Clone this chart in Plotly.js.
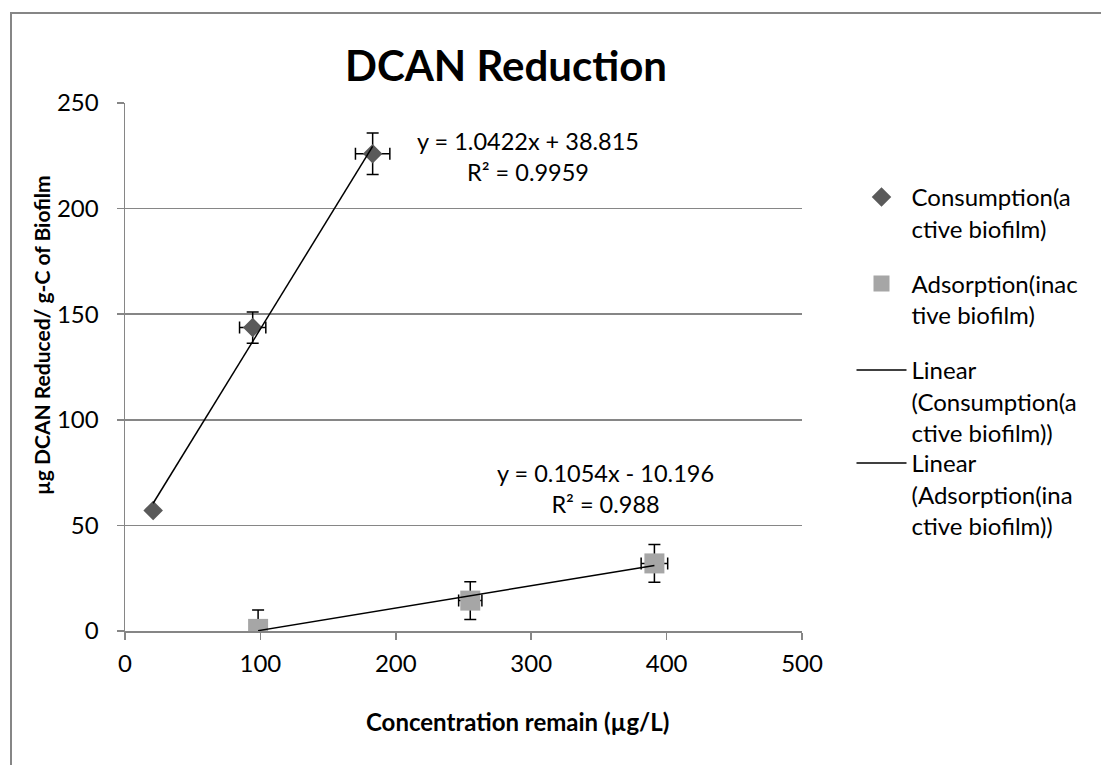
<!DOCTYPE html>
<html>
<head>
<meta charset="utf-8">
<script src="https://cdn.plot.ly/plotly-3.0.1.min.js"></script>
<style>
  html, body { margin: 0; padding: 0; background: #ffffff; }
  #chart { width: 1101px; height: 765px; }
</style>
</head>
<body>
<div id="chart"></div>
<script>
// ---- data ----
var consX    = [20.8, 94.3, 182.9];
var consY    = [57.1, 143.7, 226.0];
var consXerr = [0, 9.7, 12.7];
var consYerr = [0, 7.4, 9.8];

var adsX    = [98.3, 255.0, 391.0];
var adsY    = [1.0, 14.4, 32.0];
var adsXerr = [0, 8.6, 9.8];
var adsYerr = [9.0, 8.9, 8.9];

var fitSlopes     = [1.0422, 0.1054];
var fitIntercepts = [38.815, -10.196];
var fitLabels     = ["y = 1.0422x + 38.815<br>R² = 0.9959", "y = 0.1054x - 10.196<br>R² = 0.988"];

var seriesNames = ["Consumption(a<br>ctive biofilm)", "Adsorption(inac<br>tive biofilm)"];
var trendNames  = ["Linear<br>(Consumption(a<br>ctive biofilm))", "Linear<br>(Adsorption(ina<br>ctive biofilm))"];

var yTickVals = [0, 50, 100, 150, 200, 250];
var xTickVals = [0, 100, 200, 300, 400, 500];

// ---- helpers ----
function fitLine(xs, k) {
  var lo = Math.min.apply(null, xs), hi = Math.max.apply(null, xs);
  return { x: [lo, hi], y: [fitSlopes[k] * lo + fitIntercepts[k], fitSlopes[k] * hi + fitIntercepts[k]] };
}
var fit0 = fitLine(consX, 0);
var fit1 = fitLine(adsX, 1);

var FONT = "Lato, 'Open Sans', sans-serif";
var errStyle = { color: "#000000", thickness: 1.5, width: 6 };

var traces = [
  {
    type: "scatter", mode: "markers", name: seriesNames[0],
    x: consX, y: consY,
    marker: { symbol: "diamond", size: 15, color: "#5a5a5a" },
    error_y: Object.assign({ type: "data", array: consYerr, visible: true }, errStyle),
    error_x: Object.assign({ type: "data", array: consXerr, visible: true }, errStyle),
    legend: "legend"
  },
  {
    type: "scatter", mode: "markers", name: seriesNames[1],
    x: adsX, y: adsY,
    marker: { symbol: "square", size: 20, color: "#a6a6a6" },
    error_y: Object.assign({ type: "data", array: adsYerr, visible: true }, errStyle),
    error_x: Object.assign({ type: "data", array: adsXerr, visible: true }, errStyle),
    legend: "legend2"
  },
  {
    type: "scatter", mode: "lines", name: trendNames[0],
    x: fit0.x, y: fit0.y,
    line: { color: "#000000", width: 1.5 },
    legend: "legend3"
  },
  {
    type: "scatter", mode: "lines", name: trendNames[1],
    x: fit1.x, y: fit1.y,
    line: { color: "#000000", width: 1.5 },
    legend: "legend4"
  }
];

var ml = 125, mr = 299, mt = 103, mb = 134;
var W = 1101, H = 765;
var pw = W - ml - mr, ph = H - mt - mb;
function px2paperX(p) { return (p - ml) / pw; }
function px2paperY(p) { return (H - mb - p) / ph; }

function legendAt(topPx) {
  return {
    x: px2paperX(851.5), xanchor: "left",
    y: px2paperY(topPx), yanchor: "top",
    font: { family: FONT, size: 24, color: "#000000" },
    itemwidth: 50,
    valign: "top",
    bgcolor: "rgba(0,0,0,0)",
    borderwidth: 0
  };
}

var layout = {
  width: W, height: H,
  margin: { l: ml, r: mr, t: mt, b: mb, pad: 0 },
  paper_bgcolor: "#ffffff",
  plot_bgcolor: "#ffffff",
  font: { family: FONT, size: 24, color: "#000000" },
  title: {
    text: "<b>DCAN Reduction</b>",
    font: { family: FONT, size: 42, color: "#000000" },
    x: px2paperX(506), xref: "paper", xanchor: "center",
    y: 1 - 66 / H, yref: "container", yanchor: "middle"
  },
  xaxis: {
    range: [0, 500], tickvals: xTickVals, ticktext: xTickVals.map(String),
    showgrid: false, zeroline: false,
    showline: true, linecolor: "#868686", linewidth: 1.5,
    ticks: "outside", ticklen: 7, tickcolor: "#868686", tickwidth: 1.5,
    tickfont: { family: FONT, size: 24, color: "#000000" },
    ticklabelstandoff: 4,
    fixedrange: true
  },
  yaxis: {
    range: [0, 250], tickvals: yTickVals, ticktext: yTickVals.map(String),
    showgrid: true, gridcolor: "#868686", gridwidth: 1.5,
    zeroline: false,
    showline: true, linecolor: "#868686", linewidth: 1.5,
    ticks: "outside", ticklen: 7, tickcolor: "#868686", tickwidth: 1.5,
    tickfont: { family: FONT, size: 24, color: "#000000" },
    ticklabelstandoff: 13,
    fixedrange: true
  },
  legend:  legendAt(175),
  legend2: legendAt(261.5),
  legend3: legendAt(348),
  legend4: legendAt(441),
  showlegend: true,
  annotations: [
    {
      text: fitLabels[0], x: 297.9, y: 224.6, xref: "x", yref: "y",
      showarrow: false, xanchor: "center", yanchor: "middle", align: "center",
      font: { family: FONT, size: 23.5, color: "#000000" }
    },
    {
      text: fitLabels[1], x: 354.7, y: 67.4, xref: "x", yref: "y",
      showarrow: false, xanchor: "center", yanchor: "middle", align: "center",
      font: { family: FONT, size: 23.5, color: "#000000" }
    },
    {
      text: "<b>µg DCAN Reduced/ g-C of Biofilm</b>",
      x: px2paperX(41), y: px2paperY(335), xref: "paper", yref: "paper",
      showarrow: false, textangle: -90, xanchor: "center", yanchor: "middle",
      font: { family: FONT, size: 21, color: "#000000" }
    },
    {
      text: "<b>Concentration remain (µg/L)</b>",
      x: px2paperX(517), y: px2paperY(721), xref: "paper", yref: "paper",
      showarrow: false, xanchor: "center", yanchor: "middle",
      font: { family: FONT, size: 24, color: "#000000" }
    }
  ],
  shapes: [
    {
      type: "rect", xref: "paper", yref: "paper", layer: "below",
      x0: px2paperX(11), x1: px2paperX(W + 10),
      y0: px2paperY(H + 10), y1: px2paperY(13),
      line: { color: "#868686", width: 2 }, fillcolor: "rgba(0,0,0,0)"
    }
  ]
};

Plotly.newPlot("chart", traces, layout, { displayModeBar: false, staticPlot: true });
</script>
</body>
</html>
